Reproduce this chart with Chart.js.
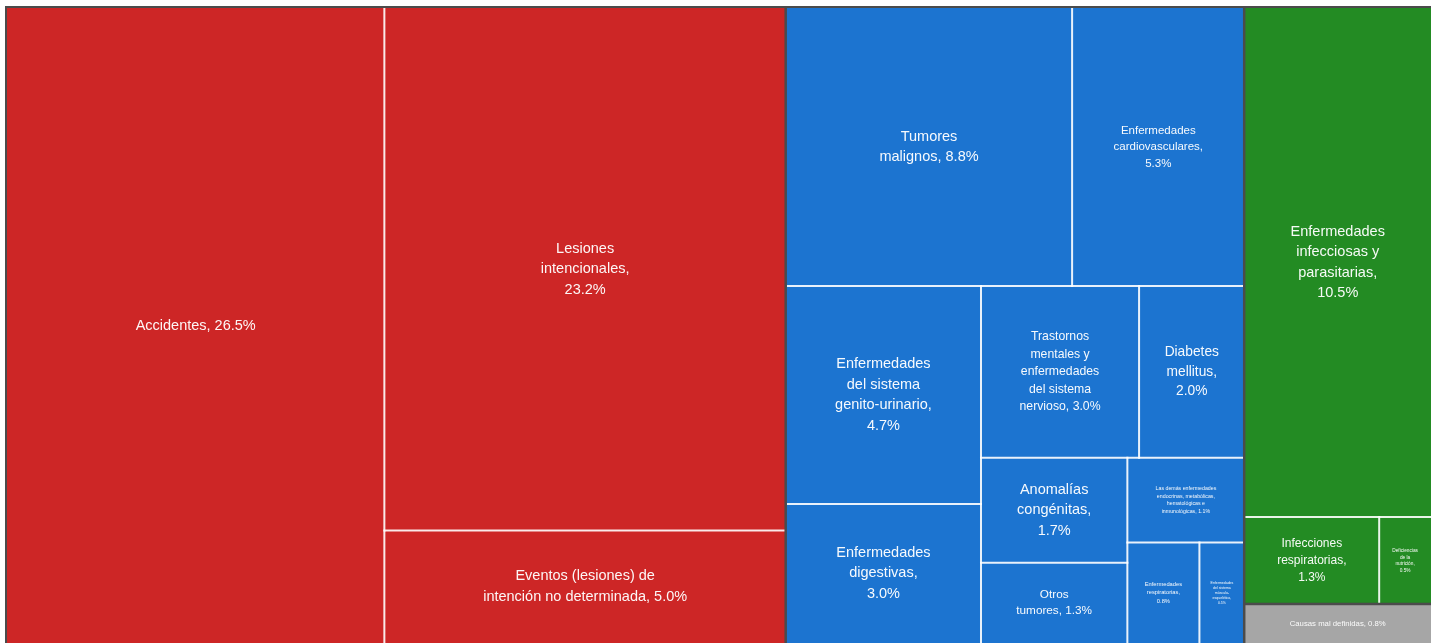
<!DOCTYPE html>
<html>
<head>
<meta charset="utf-8">
<script src="https://cdn.jsdelivr.net/npm/chart.js@4.4.1/dist/chart.umd.min.js"></script>
<style>
  html, body { margin: 0; padding: 0; background: #fff; }
  #wrap { width: 1431px; height: 643px; }
</style>
</head>
<body>
<div id="wrap"><canvas id="treemap"></canvas></div>
<script>
// groups of causes
const groupNames = ['Lesiones', 'Enfermedades no transmisibles', 'Transmisibles y nutricionales', 'Mal definidas'];
const groupColors = ['#cd2626', '#1c74d0', '#238b23', '#a6a6a6'];

// leaf cells: label (%v = value), group index, value (%)
const causeLabels = [
  'Accidentes, %v',
  'Lesiones\nintencionales,\n%v',
  'Eventos (lesiones) de\nintención no determinada, %v',
  'Tumores\nmalignos, %v',
  'Enfermedades\ncardiovasculares,\n%v',
  'Enfermedades\ndel sistema\ngenito-urinario,\n%v',
  'Enfermedades\ndigestivas,\n%v',
  'Trastornos\nmentales y\nenfermedades\ndel sistema\nnervioso, %v',
  'Diabetes\nmellitus,\n%v',
  'Anomalías\ncongénitas,\n%v',
  'Otros\ntumores, %v',
  'Las demás enfermedades\nendocrinas, metabólicas,\nhematológicas e\ninmunológicas, %v',
  'Enfermedades\nrespiratorias,\n%v',
  'Enfermedades\ndel sistema\nmúsculo-\nesquelético,\n%v',
  'Enfermedades\ninfecciosas y\nparasitarias,\n%v',
  'Infecciones\nrespiratorias,\n%v',
  'Deficiencias\nde la\nnutrición,\n%v',
  'Causas mal definidas, %v'
];
const causeGroup = [0, 0, 0, 1, 1, 1, 1, 1, 1, 1, 1, 1, 1, 1, 2, 2, 2, 3];
const causeValues = [26.5, 23.2, 5.0, 8.8, 5.3, 4.7, 3.0, 3.0, 2.0, 1.7, 1.3, 1.1, 0.8, 0.5, 10.5, 1.3, 0.5, 0.8];

const FONT = '"Liberation Sans", Arial, Helvetica, sans-serif';

function worst(row, side) {
  const s = row.reduce((a, b) => a + b, 0);
  const mx = Math.max(...row), mn = Math.min(...row);
  return Math.max(side * side * mx / (s * s), (s * s) / (side * side * mn));
}

// squarified layout, keeps input index order in output
function squarify(values, rect) {
  const total = values.reduce((a, b) => a + b, 0);
  const k = rect.w * rect.h / total;
  const items = values.map((v, i) => ({ i, a: v * k })).sort((p, q) => q.a - p.a);
  const r = { ...rect };
  const out = [];
  let i = 0;
  while (i < items.length) {
    const side = Math.min(r.w, r.h);
    const row = [items[i]];
    let j = i + 1;
    while (j < items.length) {
      const cur = worst(row.map(o => o.a), side);
      const next = worst(row.concat(items[j]).map(o => o.a), side);
      if (next <= cur) { row.push(items[j]); j++; } else break;
    }
    const s = row.reduce((a, o) => a + o.a, 0);
    if (r.w >= r.h) {
      const cw = s / r.h;
      let y = r.y;
      row.forEach(o => { const h = o.a / cw; out[o.i] = { x: r.x, y, w: cw, h }; y += h; });
      r.x += cw; r.w -= cw;
    } else {
      const rh = s / r.w;
      let x = r.x;
      row.forEach(o => { const w = o.a / rh; out[o.i] = { x, y: r.y, w, h: rh }; x += w; });
      r.y += rh; r.h -= rh;
    }
    i = j;
  }
  return out;
}

const treemapPlugin = {
  id: 'treemap',
  afterDraw(chart) {
    const { ctx, chartArea: ca } = chart;
    const xs = chart.scales.x, ys = chart.scales.y;
    const k = ca.width / ca.height;
    const toPx = r => ({
      x0: xs.getPixelForValue(r.x / k * 100),
      x1: xs.getPixelForValue((r.x + r.w) / k * 100),
      y0: ys.getPixelForValue(r.y * 100),
      y1: ys.getPixelForValue((r.y + r.h) * 100)
    });

    const totals = groupNames.map((g, gi) =>
      causeValues.reduce((s, v, i) => s + (causeGroup[i] === gi ? v : 0), 0));
    const groupRects = squarify(totals, { x: 0, y: 0, w: k, h: 1 });

    ctx.save();
    ctx.fillStyle = '#4b4b4b';
    ctx.fillRect(ca.left - 2, ca.top - 2, ca.width + 2, ca.height + 2);

    groupRects.forEach((gr, gi) => {
      const p = toPx(gr);
      const l = p.x0 + (p.x0 > ca.left + 0.5 ? 1 : 0);
      const r = p.x1 - (p.x1 < ca.right - 0.5 ? 1.5 : 0);
      const t = p.y0 + (p.y0 > ca.top + 0.5 ? 1 : 0);
      const b = p.y1 - (p.y1 < ca.bottom - 0.5 ? 1.5 : 0);
      ctx.fillStyle = groupColors[gi];
      ctx.fillRect(l, t, r - l, b - t);

      const idx = causeValues.map((v, i) => i).filter(i => causeGroup[i] === gi);
      const leaves = squarify(idx.map(i => causeValues[i]), gr);

      ctx.save();
      ctx.beginPath();
      ctx.rect(l, t, r - l, b - t);
      ctx.clip();
      ctx.strokeStyle = 'rgba(255,255,255,0.9)';
      ctx.lineWidth = 2;
      leaves.forEach(lf => {
        const q = toPx(lf);
        ctx.beginPath();
        if (q.x0 > p.x0 + 0.5) { ctx.moveTo(q.x0, q.y0 - 1); ctx.lineTo(q.x0, q.y1 + 1); }
        if (q.y0 > p.y0 + 0.5) { ctx.moveTo(q.x0 - 1, q.y0); ctx.lineTo(q.x1 + 1, q.y0); }
        ctx.stroke();
      });

      // labels
      ctx.fillStyle = 'rgba(255,255,255,0.96)';
      ctx.textAlign = 'center';
      ctx.textBaseline = 'middle';
      leaves.forEach((lf, li) => {
        const ci = idx[li];
        const q = toPx(lf);
        const w = q.x1 - q.x0, h = q.y1 - q.y0;
        const lines = causeLabels[ci].replace('%v', causeValues[ci].toFixed(1) + '%').split('\n');
        let size = 14.5;
        while (size > 3) {
          ctx.font = size + 'px ' + FONT;
          const mw = Math.max(...lines.map(s => ctx.measureText(s).width));
          if (mw <= w * 0.52 && lines.length * size * 1.45 <= h * 0.8) break;
          size -= 0.25;
        }
        ctx.font = size + 'px ' + FONT;
        const lh = size * 1.42;
        const cx = (q.x0 + q.x1) / 2, cy = (q.y0 + q.y1) / 2;
        lines.forEach((s, n) => {
          ctx.fillText(s, cx, cy + (n - (lines.length - 1) / 2) * lh);
        });
      });
      ctx.restore();
    });
    ctx.restore();
  }
};

new Chart(document.getElementById('treemap').getContext('2d'), {
  type: 'scatter',
  data: { datasets: [{ data: [] }] },
  options: {
    responsive: true,
    maintainAspectRatio: false,
    animation: false,
    layout: { padding: { left: 7, top: 8, right: 0, bottom: 0 } },
    plugins: { legend: { display: false }, tooltip: { enabled: false } },
    scales: {
      x: { type: 'linear', min: 0, max: 100, display: false },
      y: { type: 'linear', min: 0, max: 100, reverse: true, display: false }
    }
  },
  plugins: [treemapPlugin]
});
</script>
</body>
</html>
